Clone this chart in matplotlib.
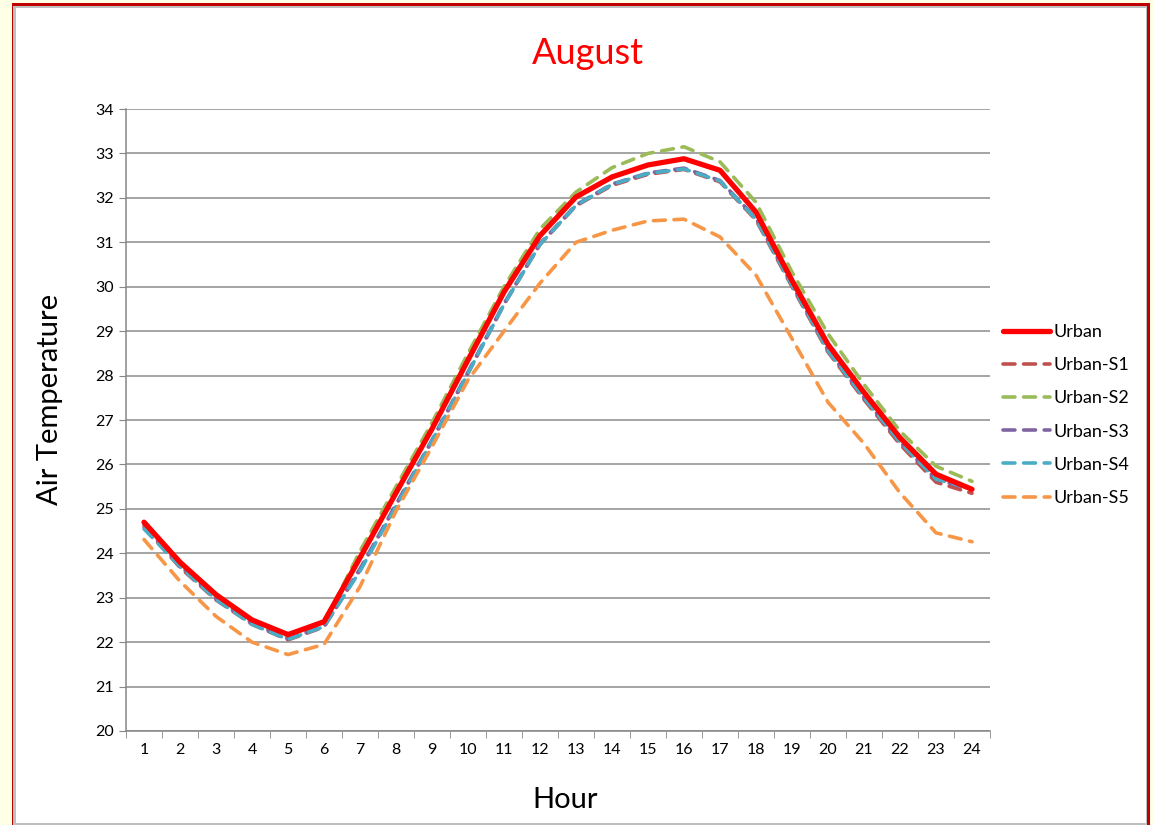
import matplotlib

matplotlib.use("Agg")

import matplotlib.pyplot as plt
from matplotlib.patches import Rectangle

hours = list(range(1, 25))

urban = [24.70, 23.80, 23.07, 22.50, 22.17, 22.46, 23.90, 25.36, 26.80, 28.35, 29.88, 31.15,
         32.02, 32.47, 32.74, 32.88, 32.62, 31.68, 30.14, 28.70, 27.62, 26.60, 25.78, 25.44]
urban_s1 = [24.60, 23.68, 22.95, 22.40, 22.05, 22.34, 23.62, 25.08, 26.52, 28.05, 29.60, 30.95,
            31.82, 32.28, 32.53, 32.64, 32.36, 31.50, 30.00, 28.53, 27.46, 26.45, 25.60, 25.35]
urban_s2 = [24.70, 23.76, 23.02, 22.46, 22.10, 22.42, 24.05, 25.50, 26.94, 28.50, 30.00, 31.30,
            32.13, 32.68, 33.00, 33.15, 32.81, 31.90, 30.33, 28.94, 27.80, 26.75, 25.96, 25.62]
urban_s3 = [24.65, 23.72, 22.98, 22.42, 22.07, 22.36, 23.65, 25.10, 26.55, 28.08, 29.62, 30.97,
            31.84, 32.31, 32.56, 32.67, 32.39, 31.54, 30.04, 28.57, 27.50, 26.50, 25.66, 25.44]
urban_s4 = [24.55, 23.70, 22.96, 22.40, 22.06, 22.35, 23.60, 25.05, 26.53, 28.05, 29.60, 30.95,
            31.83, 32.30, 32.55, 32.65, 32.38, 31.52, 30.03, 28.56, 27.50, 26.50, 25.67, 25.46]
urban_s5 = [24.31, 23.37, 22.58, 22.00, 21.72, 21.95, 23.25, 24.95, 26.40, 27.90, 29.00, 30.08,
            31.00, 31.27, 31.48, 31.52, 31.12, 30.26, 28.83, 27.40, 26.47, 25.36, 24.46, 24.26]

W, H = 1153, 825
plt.rcParams["font.family"] = ["Lato", "DejaVu Sans"]

fig = plt.figure(figsize=(W / 100, H / 100), dpi=100)
fig.patch.set_facecolor("#FFFFE6")


def px_rect(x0, y0, x1, y1, color):
    # pixel box (top-left origin) -> figure fraction rectangle
    fig.patches.append(Rectangle((x0 / W, 1 - y1 / H), (x1 - x0) / W, (y1 - y0) / H,
                                 transform=fig.transFigure, facecolor=color,
                                 edgecolor="none", zorder=-10))


px_rect(11.5, 3, 1149.5, 830, "#C00000")
px_rect(13.5, 5.5, 1147.2, 825, "#BFBFBF")
px_rect(15.5, 7.5, 1145.5, 823, "white")

ax = fig.add_axes([126 / W, 1 - 731 / H, (990 - 126) / W, (731 - 109) / H])
ax.set_facecolor("none")

dash = dict(linewidth=2.6, dashes=(3.3, 2.4), dash_capstyle="round")
ax.plot(hours, urban_s1, color="#C0504D", label="Urban-S1", **dash)
ax.plot(hours, urban_s2, color="#9BBB59", label="Urban-S2", **dash)
ax.plot(hours, urban_s3, color="#8064A2", label="Urban-S3", **dash)
ax.plot(hours, urban_s4, color="#4BACC6", label="Urban-S4", **dash)
ax.plot(hours, urban_s5, color="#F79646", label="Urban-S5", **dash)
ax.plot(hours, urban, color="#FF0000", linewidth=3.8, label="Urban",
        solid_capstyle="round", zorder=5)

ax.set_xlim(0.5, 24.5)
ax.set_ylim(20, 34)
ax.set_yticks(range(20, 35))
ax.set_xticks(hours)
ax.set_xticks([h + 0.5 for h in range(0, 25)], minor=True)
ax.tick_params(axis="x", which="major", length=0, pad=9, labelsize=11.5)
ax.tick_params(axis="x", which="minor", length=5, color="#868686", direction="out")
ax.tick_params(axis="y", length=5, color="#868686", pad=4, labelsize=11.5)
ax.grid(axis="y", color="#8C8C8C", linewidth=1.1)
ax.set_axisbelow(True)
for side in ["top", "right"]:
    ax.spines[side].set_visible(False)
for side in ["left", "bottom"]:
    ax.spines[side].set_color("#868686")
    ax.spines[side].set_linewidth(1.1)

fig.text(588 / W, 1 - 54 / H, "August", color="#FF0000", fontsize=26,
         ha="center", va="center")
ax.set_xlabel("Hour", fontsize=21)
ax.xaxis.set_label_coords((565 - 126) / (990 - 126), (731 - 800) / (731 - 109))
ax.xaxis.label.set_va("center")
ax.set_ylabel("Air Temperature", fontsize=21)
ax.yaxis.set_label_coords((50 - 126) / (990 - 126), (731 - 399) / (731 - 109))
ax.yaxis.label.set_va("center")

handles, labels = ax.get_legend_handles_labels()
order = [5, 0, 1, 2, 3, 4]
ax.legend([handles[i] for i in order], [labels[i] for i in order],
          loc="center left", bbox_to_anchor=(1003 / W, 1 - 415 / H),
          bbox_transform=fig.transFigure, frameon=False, fontsize=13,
          handlelength=2.6, handletextpad=0.2, labelspacing=0.95,
          borderaxespad=0, borderpad=0)

fig.savefig("out.png", dpi=100, facecolor=fig.get_facecolor())
